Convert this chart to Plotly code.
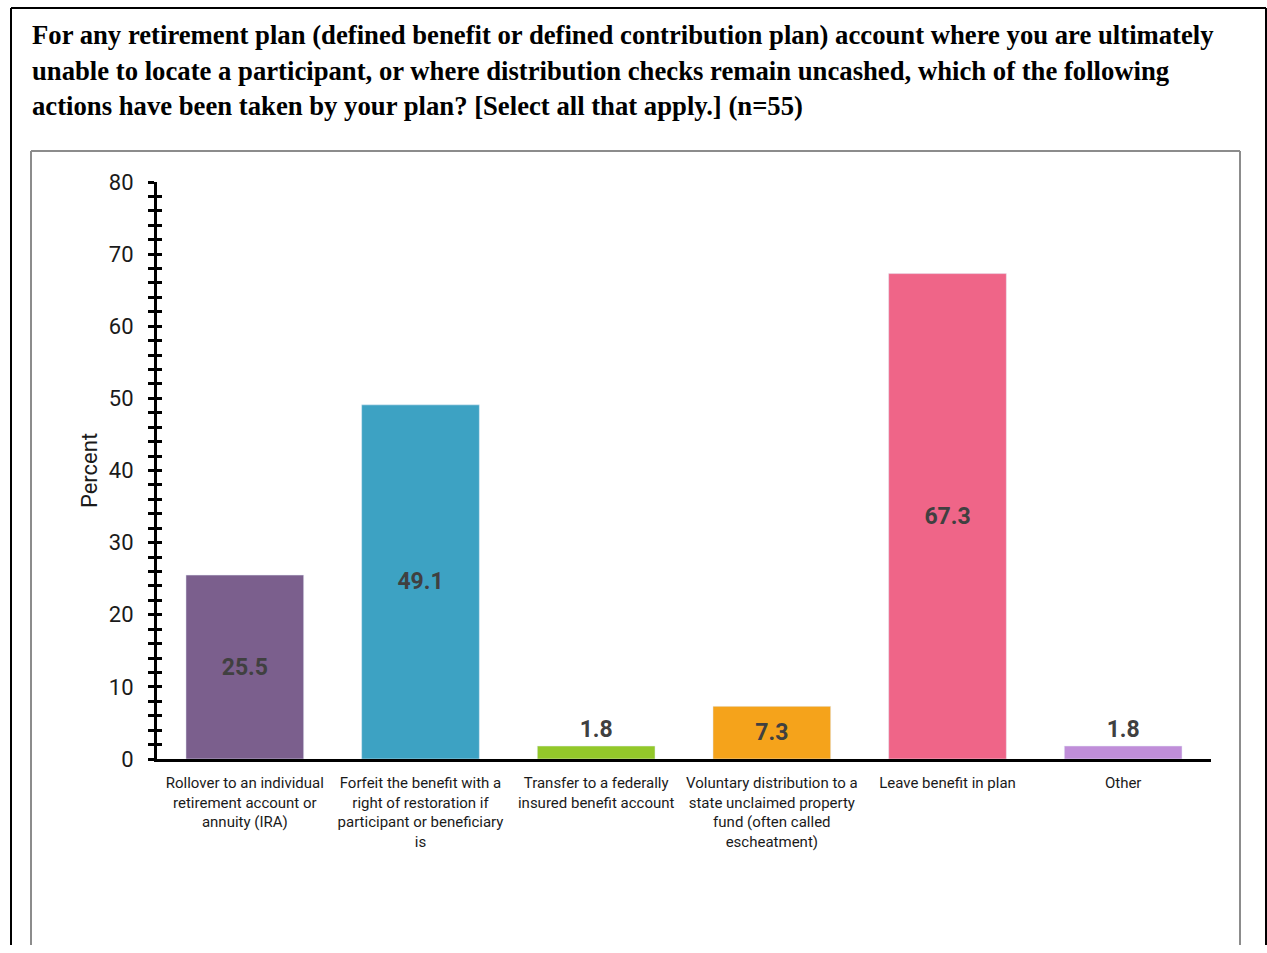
import plotly.graph_objects as go

categories = [
    "Rollover to an individual<br>retirement account or<br>annuity (IRA)",
    "Forfeit the benefit with a<br>right of restoration if<br>participant or beneficiary<br>is",
    "Transfer to a federally<br>insured benefit account",
    "Voluntary distribution to a<br>state unclaimed property<br>fund (often called<br>escheatment)",
    "Leave benefit in plan",
    "Other",
]
values = [25.5, 49.1, 1.8, 7.3, 67.3, 1.8]
colors = ["#7B5F8D", "#3DA2C3", "#93C82A", "#F5A31B", "#EF6588", "#C08ED9"]
text_pos = ["inside", "inside", "outside", "inside", "inside", "outside"]
title_lines = [
    "For any retirement plan (defined benefit or defined contribution plan) account where you are ultimately",
    "unable to locate a participant, or where distribution checks remain uncashed, which of the following",
    "actions have been taken by your plan? [Select all that apply.] (n=55)",
]
y_title = "Percent"

W, H = 1267, 953
L, R, T, B = 157, 1211, 182, 759
COND = "Roboto, Liberation Sans Narrow, sans-serif"


def px(x):
    return (x - L) / (R - L)


def py(y):
    return (B - y) / (B - T)


fig = go.Figure()
fig.add_trace(go.Bar(
    x=categories, y=values, marker_color=colors, width=0.67,
    text=[f"{v:.1f}" for v in values], textposition=text_pos,
    insidetextanchor="middle", textangle=0,
    insidetextfont=dict(family=COND, size=23, color="#404040", weight="bold"),
    outsidetextfont=dict(family=COND, size=23, color="#404040", weight="bold"),
    cliponaxis=False, constraintext="none", hoverinfo="skip",
))
# invisible trace for the overlay axis (inside ticks)
fig.add_trace(go.Scatter(x=[categories[0]], y=[0], yaxis="y2", mode="markers",
                         marker=dict(opacity=0), showlegend=False, hoverinfo="skip"))

shapes = []
# outer black frame (open at bottom)
for (x0, y0, x1, y1) in [(11, 945, 11, 8), (11, 8, 1266, 8), (1266, 8, 1266, 945)]:
    shapes.append(dict(type="line", xref="paper", yref="paper",
                       x0=px(x0), y0=py(y0), x1=px(x1), y1=py(y1),
                       line=dict(color="#000000", width=2), layer="below"))
# inner gray frame
for (x0, y0, x1, y1) in [(31, 945, 31, 151), (31, 151, 1240, 151), (1240, 151, 1240, 945)]:
    shapes.append(dict(type="line", xref="paper", yref="paper",
                       x0=px(x0), y0=py(y0), x1=px(x1), y1=py(y1),
                       line=dict(color="#8C8C8C", width=2), layer="below"))

annotations = []
for i, line in enumerate(title_lines):
    annotations.append(dict(
        text=line, xref="paper", yref="paper", x=px(30), y=py(35 + i * 35.5),
        xanchor="left", yanchor="middle", showarrow=False,
        font=dict(family="Liberation Serif, Times New Roman, serif", size=26.7,
                  color="#000000", weight="bold"),
    ))

fig.update_layout(
    width=W, height=H,
    margin=dict(l=L, r=W - R, t=T, b=H - B, pad=0, autoexpand=False),
    paper_bgcolor="white", plot_bgcolor="white",
    showlegend=False, bargap=0.33,
    shapes=shapes, annotations=annotations,
    xaxis=dict(
        type="category", range=[-0.5, 5.5], showline=True, linecolor="#000000",
        linewidth=3, ticks="", showgrid=False, zeroline=False, automargin=False,
        tickangle=0,
        tickfont=dict(family=COND, size=15, color="#1A1A1A"),
        ticklabelstandoff=8,
    ),
    yaxis=dict(
        range=[0, 80], dtick=10, showline=True, linecolor="#000000", linewidth=3,
        ticks="outside", ticklen=6, tickwidth=3, tickcolor="#000000",
        minor=dict(dtick=2, ticks="outside", ticklen=6, tickwidth=3, tickcolor="#000000"),
        showgrid=False, zeroline=False, automargin=False,
        tickfont=dict(family=COND, size=22, color="#1A1A1A"),
        ticklabelstandoff=10,
        title=dict(text=y_title, font=dict(family=COND, size=22, color="#1A1A1A"), standoff=6),
    ),
    yaxis2=dict(
        range=[0, 80], dtick=2, overlaying="y", side="left", anchor="x",
        showline=False, ticks="inside", ticklen=5, tickwidth=3, tickcolor="#000000",
        showticklabels=False, showgrid=False, zeroline=False, automargin=False,
    ),
)

fig.write_html("out.html")
